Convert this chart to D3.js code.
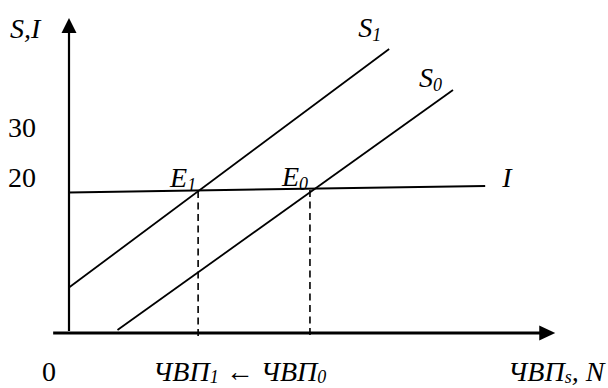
<!DOCTYPE html>
<html>
<head>
<meta charset="utf-8">
<script src="https://cdn.jsdelivr.net/npm/d3@7"></script>
<style>
  html, body { margin: 0; padding: 0; background: #fff; }
  svg { display: block; }
  text { font-family: "Liberation Serif", "Times New Roman", serif; fill: #000; }
</style>
</head>
<body>
<script>
// ---------- data (abstract model units) ----------
const yTickValues = [20, 30];
const yTickLabels = ["20", "30"];
const originLabel = "0";

// investment line I (nearly flat)
const investX = [0, 86.7];
const investY = [19.7, 21.0];

// savings line S1 (shifted up)
const s1X = [0, 66.7];
const s1Y = [0.7, 48.4];

// savings line S0 (initial)
const s0X = [10.1, 80];
const s0Y = [-7.8, 40.2];

// equilibrium points
const eqNames = ["E1", "E0"];
const eqX = [26.9, 50.2];
const eqY = [20.0, 20.2];

// axis extents
const xAxisFrom = -3.3, xAxisTo = 101.3;
const yAxisFrom = -8.4, yAxisTo = 54.6;

// ---------- layout ----------
const W = 608, H = 388;
const x = d3.scaleLinear().domain([0, 100]).range([69, 549]);
const y = d3.scaleLinear().domain([0, 10]).range([291, 241]);

const svg = d3.select("body").append("svg")
  .attr("width", W).attr("height", H);

const FS = 28;
const SUB = 18;

// axes
svg.append("line")
  .attr("x1", x(0)).attr("x2", x(0))
  .attr("y1", y(yAxisFrom) - 2).attr("y2", y(yAxisTo) + 14)
  .attr("stroke", "#000").attr("stroke-width", 2.2);
svg.append("path")
  .attr("d", `M${x(0)},${y(yAxisTo)} L${x(0) - 7.5},${y(yAxisTo) + 15} L${x(0) + 7.5},${y(yAxisTo) + 15} Z`)
  .attr("fill", "#000");

svg.append("line")
  .attr("x1", x(xAxisFrom)).attr("x2", x(xAxisTo) - 14)
  .attr("y1", y(yAxisFrom)).attr("y2", y(yAxisFrom))
  .attr("stroke", "#000").attr("stroke-width", 2.8);
svg.append("path")
  .attr("d", `M${x(xAxisTo)},${y(yAxisFrom)} L${x(xAxisTo) - 16},${y(yAxisFrom) - 7.5} L${x(xAxisTo) - 16},${y(yAxisFrom) + 7.5} Z`)
  .attr("fill", "#000");

const line = d3.line().x(d => x(d[0])).y(d => y(d[1]));

// dashed drops from equilibria
eqX.forEach((ex, i) => {
  svg.append("line")
    .attr("x1", x(ex)).attr("x2", x(ex))
    .attr("y1", y(eqY[i])).attr("y2", y(yAxisFrom) + 3)
    .attr("stroke", "#000").attr("stroke-width", 1.6)
    .attr("stroke-dasharray", "7,4.5");
});

// I line
svg.append("path").attr("d", line(d3.zip(investX, investY)))
  .attr("fill", "none").attr("stroke", "#000").attr("stroke-width", 2);
// S lines
svg.append("path").attr("d", line(d3.zip(s1X, s1Y)))
  .attr("fill", "none").attr("stroke", "#000").attr("stroke-width", 1.8);
svg.append("path").attr("d", line(d3.zip(s0X, s0Y)))
  .attr("fill", "none").attr("stroke", "#000").attr("stroke-width", 1.8);

// helper for italic label with subscript
function subLabel(px, py, main, sub) {
  const t = svg.append("text").attr("x", px).attr("y", py)
    .attr("font-size", FS).attr("font-style", "italic");
  t.append("tspan").text(main);
  t.append("tspan").attr("font-size", SUB).attr("dy", 4).text(sub);
  return t;
}

// line labels
subLabel(x(s1X[1]) - 31, y(s1Y[1]) - 12, "S", "1");
subLabel(x(s0X[1]) - 34, y(s0Y[1]) - 3, "S", "0");
svg.append("text").attr("x", x(investX[1]) + 17).attr("y", y(investY[1]) + 1)
  .attr("font-size", FS).attr("font-style", "italic").text("I");

// equilibrium labels
eqX.forEach((ex, i) => {
  subLabel(x(ex) - 28, y(eqY[i]) - 4, "E", eqNames[i].slice(1));
});

// y axis title
svg.append("text").attr("x", 10).attr("y", 38)
  .attr("font-size", FS).attr("font-style", "italic").text("S,I");

// y tick labels
yTickValues.forEach((v, i) => {
  svg.append("text").attr("x", 8).attr("y", y(v) - 4)
    .attr("font-size", FS).text(yTickLabels[i]);
});

// x labels
const baseY = 381;
svg.append("text").attr("x", 42).attr("y", baseY).attr("font-size", FS).text(originLabel);

const mid = svg.append("text").attr("x", 153).attr("y", baseY)
  .attr("font-size", FS).attr("font-style", "italic");
mid.append("tspan").text("ЧВП");
mid.append("tspan").attr("font-size", SUB).attr("dy", 2).text("1");
mid.append("tspan").attr("dy", -2).attr("font-style", "normal").text(" ← ");
mid.append("tspan").text("ЧВП");
mid.append("tspan").attr("font-size", SUB).attr("dy", 2).text("0");

const right = svg.append("text").attr("x", 508).attr("y", baseY)
  .attr("font-size", FS).attr("font-style", "italic");
right.append("tspan").text("ЧВП");
right.append("tspan").attr("font-size", SUB).attr("dy", 2).text("s");
right.append("tspan").attr("dy", -2).text(", N");
</script>
</body>
</html>
